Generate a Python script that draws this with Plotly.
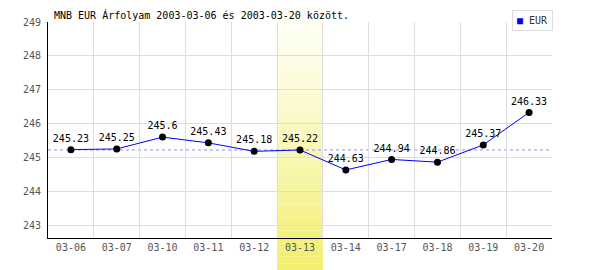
import plotly.graph_objects as go

dates = ["03-06", "03-07", "03-10", "03-11", "03-12", "03-13", "03-14", "03-17", "03-18", "03-19", "03-20"]
rates = [245.23, 245.25, 245.6, 245.43, 245.18, 245.22, 244.63, 244.94, 244.86, 245.37, 246.33]
y_ticks = [243, 244, 245, 246, 247, 248, 249]
highlight = "03-13"
title_text = "MNB EUR Árfolyam 2003-03-06 és 2003-03-20 között."
series_name = "EUR"

FONT = "DejaVu Sans Mono"
xs = list(range(len(dates)))
hi = dates.index(highlight)
ref_value = rates[hi]

fig = go.Figure()

fig.add_trace(go.Scatter(
    x=xs, y=rates, mode="lines+markers+text",
    line=dict(color="#0000ff", width=1),
    marker=dict(color="#000000", size=7),
    text=[f"{v:g}" for v in rates], textposition="top center",
    textfont=dict(family=FONT, size=10, color="#000000"),
    showlegend=False, cliponaxis=False,
))

shapes = []
# gradient highlight band (stack of thin rects)
n = 40
top_p, bot_p = 1.065, -0.148
c_top = (255, 255, 248)
c_bot = (242, 238, 110)
for i in range(n):
    t = (i / (n - 1)) ** 1.2
    y1 = top_p + (bot_p - top_p) * i / n
    y0 = top_p + (bot_p - top_p) * (i + 1) / n
    c = tuple(int(round(a + (b - a) * t)) for a, b in zip(c_top, c_bot))
    shapes.append(dict(type="rect", xref="x", yref="paper",
                       x0=hi - 0.5, x1=hi + 0.5, y0=y0, y1=y1,
                       fillcolor=f"rgb{c}", line=dict(width=0), layer="below"))
# reference dashed line
shapes.append(dict(type="line", xref="paper", yref="y", x0=0, x1=1,
                   y0=ref_value, y1=ref_value,
                   line=dict(color="#8c8cff", width=1, dash="3px,3px"), layer="below"))

fig.update_layout(
    width=600, height=270,
    margin=dict(l=48, r=48, t=22, b=32),
    paper_bgcolor="white", plot_bgcolor="rgba(0,0,0,0)",
    shapes=shapes,
    showlegend=False,
    annotations=[
        dict(text=title_text, xref="paper", yref="paper", x=0.008, y=1.032,
             xanchor="left", yanchor="middle", showarrow=False,
             font=dict(family=FONT, size=10, color="#000000")),
        dict(text="<span style='color:#0000ff'>■</span> EUR", xref="paper", yref="paper",
             x=1.002, y=1.006, xanchor="right", yanchor="middle", showarrow=False,
             font=dict(family=FONT, size=10, color="#333333"),
             bordercolor="#dddddd", borderwidth=1, borderpad=4, bgcolor="white"),
    ],
)

fig.update_xaxes(
    range=[-0.5, len(dates) - 0.5],
    tickvals=xs, ticktext=dates, ticks="",
    showgrid=False, zeroline=False,
    showline=True, linecolor="#000000", linewidth=1,
    tickfont=dict(family=FONT, size=10, color="#555555"),
    minor=dict(tickvals=[x + 0.5 for x in xs], showgrid=True, gridcolor="#dddddd", gridwidth=1, ticks=""),
)
fig.update_yaxes(
    range=[242.62, 249],
    tickvals=y_ticks, ticks="",
    showgrid=True, gridcolor="#dddddd", gridwidth=1, zeroline=False,
    showline=True, linecolor="#000000", linewidth=1,
    tickfont=dict(family=FONT, size=10, color="#555555"),
    ticklabelstandoff=4,
)

fig.write_html("out.html")
